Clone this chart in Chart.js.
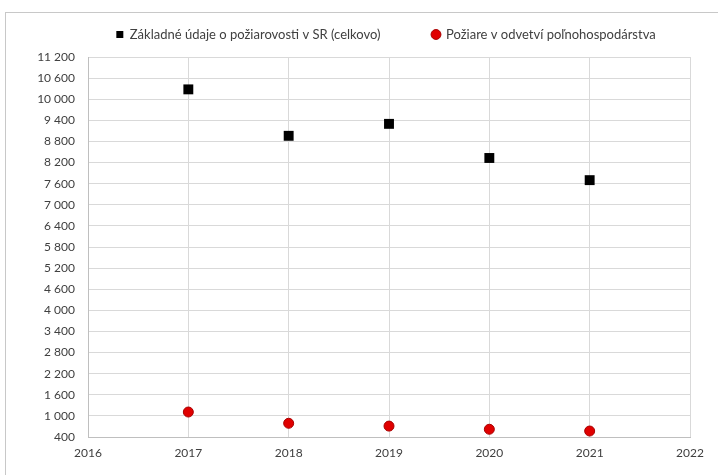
<!DOCTYPE html>
<html>
<head>
<meta charset="utf-8">
<script src="https://cdn.jsdelivr.net/npm/chart.js@4.4.1/dist/chart.umd.min.js"></script>
<style>
  html,body{margin:0;padding:0;background:#fff;overflow:hidden;}
  #wrap{position:absolute;left:5px;top:12px;width:713px;height:463px;border-left:1px solid #c8c8c8;border-top:1px solid #c8c8c8;}
  canvas{display:block;}
</style>
</head>
<body>
<div id="wrap"><canvas id="fires" width="712" height="462"></canvas></div>
<script>
// roky a počty požiarov
const years = [2017, 2018, 2019, 2020, 2021];
const totalFires = [10280, 8960, 9300, 8330, 7700];
const agriFires = [1110, 790, 710, 620, 570];
const labelTotal = 'Základné údaje o požiarovosti v SR (celkovo)';
const labelAgri = 'Požiare v odvetví poľnohospodárstva';

const fmt = v => String(v).replace(/\B(?=(\d{3})+(?!\d))/g, ' ');
const tickFont = {family:'Lato', size:12};
const txt = '#404040';

const toXY = vals => vals.map((v,i)=>({x:years[i], y:v}));

// legenda má široké medzery medzi položkami, ale nesmie ísť nižšie,
// preto jej výšku držíme pevne a celé rozloženie posúvame nahor
const LEG_PAD = 52;
const TOP_SHIFT = -37;
const LEG_SHIFT_X = 38;
const legendFix = {
  id:'legendFix',
  afterInit(chart){
    const lg = chart.legend;
    if(!lg) return;
    const fit = lg.fit;
    lg.fit = function(){ fit.call(this); this.height = 44 - TOP_SHIFT; };
  },
  afterLayout(chart){
    const lg = chart.legend;
    if(!lg) return;
    lg.left += LEG_SHIFT_X;
    lg.right += LEG_SHIFT_X;
  }
};

new Chart(document.getElementById('fires').getContext('2d'), {
  type:'scatter',
  data:{
    datasets:[
      {label:labelTotal, data:toXY(totalFires), pointStyle:'rect', pointRadius:7, pointHoverRadius:7,
       backgroundColor:'#000', borderColor:'#000', borderWidth:0},
      {label:labelAgri, data:toXY(agriFires), pointStyle:'circle', pointRadius:5, pointHoverRadius:5,
       backgroundColor:'#e00000', borderColor:'#a80000', borderWidth:1},
    ]
  },
  options:{
    responsive:false, animation:false,
    layout:{padding:{left:0, right:28, top:TOP_SHIFT, bottom:0}},
    plugins:{
      legend:{
        position:'top',
        labels:{usePointStyle:true, boxWidth:7, boxHeight:7, padding:LEG_PAD, color:txt, font:{family:'Lato', size:13}}
      },
      tooltip:{enabled:false}
    },
    scales:{
      x:{
        type:'linear', min:2016, max:2022,
        afterFit(s){ s.height = 38; },
        ticks:{stepSize:1, padding:9, color:txt, font:tickFont, callback:v=>String(v)},
        grid:{color:'#d9d9d9', drawTicks:false},
        border:{color:'#bfbfbf'}
      },
      y:{
        min:400, max:11200,
        afterFit(s){ s.width = 82; },
        ticks:{stepSize:600, padding:13, color:txt, font:tickFont, callback:v=>fmt(v)},
        grid:{color:'#d9d9d9', drawTicks:false},
        border:{color:'#bfbfbf'}
      }
    }
  },
  plugins:[legendFix]
});
</script>
</body>
</html>
